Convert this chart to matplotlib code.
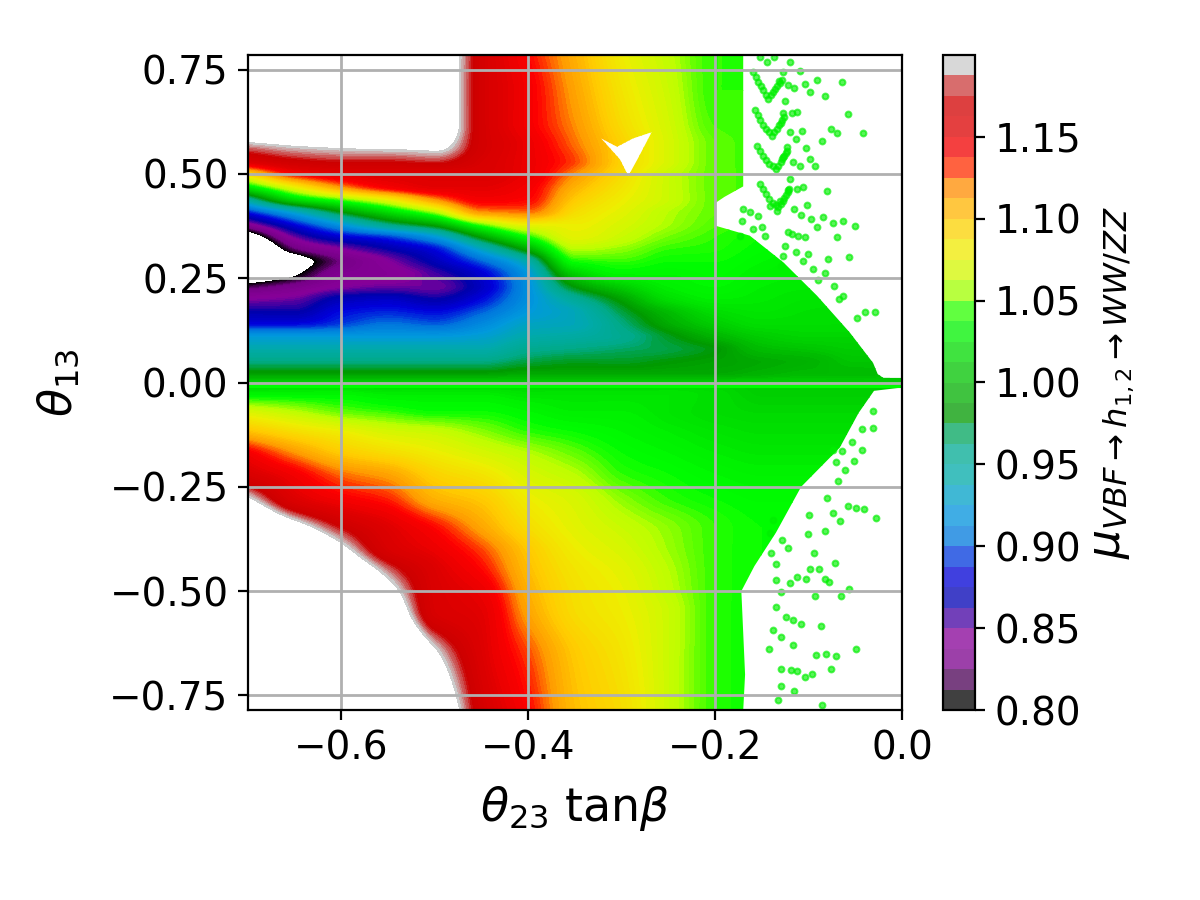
import numpy as np
import matplotlib
matplotlib.use("Agg")
import matplotlib.pyplot as plt
from matplotlib.colors import Normalize, BoundaryNorm
from matplotlib.path import Path
from matplotlib.patches import PathPatch
import matplotlib.cm as cm

# ---------------- data ----------------
theta23_tanb = [-0.70, -0.65, -0.60, -0.55, -0.50, -0.45, -0.40, -0.35,
                -0.30, -0.25, -0.20, -0.15, -0.10, -0.05, 0.00]

theta13 = [0.786, 0.70, 0.62, 0.57, 0.53, 0.50, 0.47, 0.44, 0.41, 0.38, 0.35,
           0.32, 0.29, 0.26, 0.23, 0.20, 0.17, 0.14, 0.11, 0.08, 0.05, 0.02,
           0.00, -0.03, -0.07, -0.12, -0.17, -0.22, -0.28, -0.35, -0.40,
           -0.45, -0.50, -0.55, -0.65, -0.786]

# mu_VBF values (rows follow theta13, columns follow theta23_tanb);
# values outside [0.80, 1.20] are regions without points (white)
mu_vbf = [
    [1.44, 1.42, 1.36, 1.30, 1.24, 1.17, 1.14, 1.11, 1.08, 1.062, 1.045, 1.045, 1.04, 1.04, 1.04],
    [1.34, 1.36, 1.36, 1.30, 1.24, 1.17, 1.145, 1.115, 1.085, 1.065, 1.045, 1.045, 1.04, 1.04, 1.04],
    [1.245, 1.26, 1.265, 1.27, 1.236, 1.17, 1.145, 1.12, 1.09, 1.068, 1.047, 1.045, 1.04, 1.04, 1.04],
    [1.195, 1.203, 1.207, 1.21, 1.21, 1.17, 1.15, 1.125, 1.095, 1.07, 1.05, 1.045, 1.04, 1.04, 1.04],
    [1.16, 1.175, 1.18, 1.18, 1.183, 1.165, 1.15, 1.13, 1.095, 1.07, 1.05, 1.045, 1.04, 1.04, 1.04],
    [1.09, 1.14, 1.155, 1.16, 1.16, 1.16, 1.15, 1.12, 1.09, 1.065, 1.05, 1.045, 1.04, 1.04, 1.04],
    [1.03, 1.08, 1.12, 1.145, 1.155, 1.155, 1.145, 1.11, 1.085, 1.065, 1.05, 1.045, 1.04, 1.04, 1.04],
    [0.95, 1.02, 1.05, 1.08, 1.12, 1.145, 1.14, 1.10, 1.08, 1.065, 1.05, 1.045, 1.04, 1.04, 1.04],
    [0.885, 0.93, 0.98, 1.02, 1.06, 1.12, 1.125, 1.09, 1.075, 1.06, 1.05, 1.045, 1.04, 1.04, 1.04],
    [0.835, 0.88, 0.92, 0.96, 0.99, 1.05, 1.08, 1.08, 1.07, 1.058, 1.048, 1.043, 1.04, 1.04, 1.04],
    [0.775, 0.845, 0.875, 0.89, 0.92, 0.985, 1.04, 1.075, 1.065, 1.052, 1.045, 1.04, 1.035, 1.035, 1.035],
    [0.73, 0.815, 0.84, 0.86, 0.88, 0.93, 0.99, 1.06, 1.055, 1.045, 1.043, 1.038, 1.035, 1.035, 1.035],
    [0.71, 0.78, 0.82, 0.84, 0.865, 0.895, 0.94, 1.04, 1.045, 1.04, 1.04, 1.035, 1.03, 1.03, 1.03],
    [0.755, 0.795, 0.83, 0.835, 0.85, 0.875, 0.92, 1.01, 1.035, 1.035, 1.038, 1.032, 1.03, 1.03, 1.03],
    [0.81, 0.825, 0.84, 0.845, 0.845, 0.87, 0.915, 0.98, 1.01, 1.03, 1.035, 1.03, 1.028, 1.028, 1.028],
    [0.84, 0.845, 0.865, 0.87, 0.86, 0.88, 0.915, 0.95, 0.985, 1.02, 1.03, 1.028, 1.025, 1.025, 1.025],
    [0.86, 0.86, 0.88, 0.885, 0.88, 0.895, 0.92, 0.935, 0.97, 1.00, 1.02, 1.025, 1.022, 1.02, 1.02],
    [0.88, 0.88, 0.89, 0.90, 0.895, 0.91, 0.93, 0.935, 0.96, 0.99, 1.01, 1.02, 1.02, 1.02, 1.02],
    [0.92, 0.92, 0.92, 0.92, 0.92, 0.925, 0.94, 0.945, 0.955, 0.975, 0.995, 1.01, 1.015, 1.015, 1.015],
    [0.94, 0.94, 0.94, 0.94, 0.94, 0.94, 0.955, 0.96, 0.965, 0.97, 0.98, 1.0, 1.005, 1.01, 1.01],
    [0.96, 0.96, 0.96, 0.96, 0.96, 0.96, 0.97, 0.975, 0.975, 0.98, 0.985, 0.99, 0.995, 1.005, 1.005],
    [0.985, 0.985, 0.985, 0.985, 0.985, 0.985, 0.99, 0.99, 0.99, 0.99, 0.99, 0.995, 1.00, 1.0, 1.005],
    [1.01, 1.01, 1.01, 1.01, 1.01, 1.01, 1.01, 1.01, 1.01, 1.01, 1.01, 1.01, 1.01, 1.01, 1.01],
    [1.035, 1.035, 1.035, 1.03, 1.03, 1.03, 1.025, 1.025, 1.025, 1.025, 1.02, 1.012, 1.012, 1.012, 1.012],
    [1.07, 1.06, 1.05, 1.045, 1.04, 1.04, 1.035, 1.03, 1.03, 1.025, 1.02, 1.017, 1.017, 1.017, 1.017],
    [1.105, 1.09, 1.08, 1.07, 1.065, 1.055, 1.045, 1.04, 1.035, 1.03, 1.025, 1.022, 1.022, 1.022, 1.022],
    [1.145, 1.12, 1.10, 1.09, 1.08, 1.07, 1.06, 1.05, 1.04, 1.035, 1.03, 1.027, 1.027, 1.027, 1.027],
    [1.163, 1.145, 1.125, 1.115, 1.095, 1.085, 1.07, 1.06, 1.045, 1.04, 1.035, 1.032, 1.032, 1.032, 1.032],
    [1.205, 1.16, 1.145, 1.135, 1.11, 1.10, 1.08, 1.07, 1.055, 1.045, 1.04, 1.037, 1.037, 1.037, 1.037],
    [1.28, 1.22, 1.18, 1.158, 1.14, 1.115, 1.09, 1.075, 1.065, 1.055, 1.045, 1.04, 1.04, 1.04, 1.04],
    [1.33, 1.27, 1.21, 1.165, 1.15, 1.13, 1.10, 1.08, 1.07, 1.057, 1.045, 1.04, 1.04, 1.04, 1.04],
    [1.38, 1.32, 1.25, 1.19, 1.16, 1.14, 1.105, 1.085, 1.075, 1.06, 1.045, 1.04, 1.04, 1.04, 1.04],
    [1.42, 1.36, 1.29, 1.215, 1.163, 1.15, 1.11, 1.088, 1.078, 1.062, 1.045, 1.04, 1.04, 1.04, 1.04],
    [1.46, 1.39, 1.32, 1.24, 1.165, 1.155, 1.115, 1.09, 1.08, 1.065, 1.045, 1.04, 1.04, 1.04, 1.04],
    [1.50, 1.44, 1.37, 1.30, 1.206, 1.16, 1.13, 1.10, 1.085, 1.065, 1.045, 1.04, 1.04, 1.04, 1.04],
    [1.51, 1.45, 1.39, 1.33, 1.245, 1.17, 1.14, 1.105, 1.09, 1.065, 1.045, 1.04, 1.04, 1.04, 1.04],
]

# outline of the densely scanned region
dense_edge_x = [-0.70, -0.17, -0.17, -0.19, -0.20, -0.20, -0.163, -0.127, -0.091,
                -0.056, -0.031, -0.026, -0.02, 0.0, 0.0, -0.030, -0.0465, -0.0666,
                -0.108, -0.135, -0.158, -0.172, -0.170, -0.168, -0.170, -0.70]
dense_edge_theta = [0.786, 0.786, 0.47, 0.445, 0.43, 0.376, 0.352, 0.288, 0.208,
                    0.12, 0.047, 0.02, 0.011, 0.011, -0.012, -0.02, -0.073, -0.156,
                    -0.25, -0.36, -0.44, -0.50, -0.60, -0.70, -0.786, -0.786]

# small empty notch inside the scan
notch_x = [-0.322, -0.305, -0.288, -0.268, -0.282, -0.293, -0.302]
notch_theta = [0.585, 0.565, 0.585, 0.600, 0.540, 0.495, 0.535]

# isolated scan points outside the dense region
sparse_x = [
    -0.0646, -0.0913, -0.1038, -0.0824, -0.0575, -0.0414, -0.0760, -0.0699, -0.0860, -0.1028,
    -0.1138, -0.1067, -0.1199, -0.1234, -0.1127, -0.1181, -0.1277, -0.1252, -0.0985, -0.1153,
    -0.1224, -0.1317, -0.1092, -0.1199, -0.1270, -0.0985, -0.0931, -0.1092, -0.1170, -0.1277,
    -0.1199, -0.0806, -0.1056, -0.1127, -0.1217, -0.1013, -0.1153, -0.1081, -0.0974, -0.0913,
    -0.0842, -0.0742, -0.0635, -0.0503, -0.0692, -0.0567, -0.0789, -0.1003, -0.1135, -0.1063,
    -0.0949, -0.0824, -0.0896, -0.0724, -0.0628, -0.0671, -0.0485, -0.0396, -0.0289, -0.1181,
    -0.1110, -0.1038, -0.1217, -0.1252, -0.1277, -0.1295, -0.1716, -0.1592, -0.1502, -0.1466,
    -0.1341, -0.1306, -0.1413, -0.1538, -0.1627, -0.1699, -0.1734,
    -0.1591, -0.1565, -0.1538, -0.1511, -0.1484, -0.1458, -0.1431, -0.1404, -0.1377, -0.1355,
    -0.1334, -0.1311, -0.1288,
    -0.1573, -0.1547, -0.1520, -0.1488, -0.1456, -0.1425, -0.1395, -0.1368, -0.1341, -0.1320,
    -0.1299, -0.1281, -0.1263,
    -0.1555, -0.1523, -0.1491, -0.1455, -0.1420, -0.1385, -0.1349, -0.1324, -0.1299, -0.1281,
    -0.1263, -0.1245, -0.1227,
    -0.1520, -0.1488, -0.1456, -0.1420, -0.1384, -0.1354, -0.1324, -0.1300, -0.1277, -0.1260,
    -0.1242, -0.1224, -0.1206,
    -0.1448, -0.1370, -0.1520,
    -0.0308, -0.0308, -0.0428, -0.0428, -0.0538, -0.0606, -0.0519, -0.0703, -0.0643, -0.0735,
    -0.0689, -0.0804, -0.0583, -0.0496, -0.0405, -0.0281, -0.0735, -0.0666, -0.0827, -0.1010,
    -0.0996, -0.0941, -0.0721, -0.0987, -0.0886, -0.0827, -0.0781, -0.0565, -0.0652, -0.0932,
    -0.0492, -0.0918, -0.0813, -0.0712, -0.0758, -0.0872, -0.1079, -0.1170, -0.1299, -0.1193,
    -0.1125, -0.1042, -0.0964, -0.1299, -0.1161, -0.1331, -0.0859, -0.1354, -0.1170, -0.1239,
    -0.1299, -0.1386, -0.1423, -0.1299, -0.1354, -0.1202, -0.1125, -0.1033, -0.1354, -0.1400,
    -0.1285, -0.1216, -0.1409, -0.1377,
]
sparse_theta = [
    0.720, 0.726, 0.716, 0.686, 0.643, 0.598, 0.608, 0.598, 0.579, 0.562,
    0.583, 0.604, 0.600, 0.564, 0.648, 0.646, 0.645, 0.675, 0.696, 0.707,
    0.714, 0.723, 0.746, 0.767, 0.744, 0.536, 0.520, 0.520, 0.528, 0.540,
    0.488, 0.458, 0.468, 0.464, 0.462, 0.425, 0.416, 0.402, 0.393, 0.373,
    0.397, 0.382, 0.388, 0.376, 0.349, 0.301, 0.297, 0.308, 0.313, 0.292,
    0.272, 0.262, 0.245, 0.232, 0.208, 0.200, 0.155, 0.168, 0.168, 0.356,
    0.352, 0.349, 0.361, 0.328, 0.304, 0.280, 0.388, 0.368, 0.373, 0.352,
    0.412, 0.436, 0.424, 0.398, 0.408, 0.416, 0.352,
    0.744, 0.732, 0.720, 0.710, 0.700, 0.690, 0.680, 0.688, 0.696, 0.703,
    0.711, 0.718, 0.724,
    0.652, 0.640, 0.628, 0.618, 0.608, 0.600, 0.592, 0.600, 0.608, 0.616,
    0.623, 0.630, 0.636,
    0.568, 0.556, 0.544, 0.534, 0.524, 0.518, 0.512, 0.520, 0.528, 0.535,
    0.542, 0.549, 0.556,
    0.476, 0.464, 0.452, 0.441, 0.430, 0.425, 0.420, 0.428, 0.436, 0.443,
    0.450, 0.457, 0.464,
    0.768, 0.780, 0.780,
    -0.069, -0.109, -0.111, -0.161, -0.143, -0.209, -0.189, -0.191, -0.164, -0.161,
    -0.237, -0.277, -0.296, -0.301, -0.304, -0.325, -0.312, -0.332, -0.355, -0.363,
    -0.318, -0.409, -0.432, -0.446, -0.446, -0.472, -0.478, -0.496, -0.512, -0.512,
    -0.638, -0.654, -0.651, -0.656, -0.686, -0.584, -0.578, -0.630, -0.686, -0.688,
    -0.692, -0.706, -0.698, -0.728, -0.740, -0.760, -0.774, -0.538, -0.570, -0.562,
    -0.611, -0.594, -0.638, -0.502, -0.474, -0.480, -0.466, -0.470, -0.434, -0.409,
    -0.377, -0.397, -0.361, -0.329,
]
sparse_mu = 1.03

# thin line of points on theta13 ~ 0
zero_strip_x = [-0.70, 0.0]
zero_strip_theta = -0.007
zero_strip_mu = 1.04

cbar_ticks = [0.80, 0.85, 0.90, 0.95, 1.00, 1.05, 1.10, 1.15]
x_ticks = [-0.6, -0.4, -0.2, 0.0]
y_ticks = [-0.75, -0.50, -0.25, 0.00, 0.25, 0.50, 0.75]


# ---------------- smooth (monotone) resampling for drawing ----------------
def pchip(xk, yk, xq, axis):
    """Monotone piecewise-cubic Hermite resampling along one axis."""
    yk = np.moveaxis(np.asarray(yk, float), axis, 0)
    xk = np.asarray(xk, float)
    if xk[0] > xk[-1]:
        xk = xk[::-1]
        yk = yk[::-1]
    n = len(xk)
    h = np.diff(xk)
    shp = (-1,) + (1,) * (yk.ndim - 1)
    hs = h.reshape(shp)
    delta = np.diff(yk, axis=0) / hs
    d = np.zeros_like(yk)
    h0, h1 = hs[:-1], hs[1:]
    d0, d1 = delta[:-1], delta[1:]
    w1 = 2 * h1 + h0
    w2 = h1 + 2 * h0
    with np.errstate(divide="ignore", invalid="ignore"):
        dm = (w1 + w2) / (w1 / d0 + w2 / d1)
    d[1:-1] = np.where(d0 * d1 > 0, dm, 0.0)
    d[0] = delta[0]
    d[-1] = delta[-1]
    idx = np.clip(np.searchsorted(xk, xq) - 1, 0, n - 2)
    hh = h[idx].reshape(shp)
    t = ((xq - xk[idx]) / h[idx]).reshape(shp)
    h00 = 2 * t**3 - 3 * t**2 + 1
    h10 = t**3 - 2 * t**2 + t
    h01 = -2 * t**3 + 3 * t**2
    h11 = t**3 - t**2
    res = (h00 * yk[idx] + h10 * hh * d[idx] + h01 * yk[idx + 1]
           + h11 * hh * d[idx + 1])
    return np.moveaxis(res, 0, axis)


# ---------------- figure ----------------
cmap = plt.get_cmap("nipy_spectral")
norm = Normalize(vmin=0.80, vmax=1.20)

fig = plt.figure(figsize=(6, 4.5), dpi=200)
ax = fig.add_axes([0.2067, 0.2111, 0.545, 0.7278])
cax = fig.add_axes([0.7858, 0.2111, 0.0267, 0.7278])

xq = np.linspace(theta23_tanb[0], theta23_tanb[-1], 421)
yq = np.linspace(theta13[-1], theta13[0], 481)
Z = np.array(mu_vbf)
Zx = pchip(theta23_tanb, Z, xq, axis=1)
Zf = pchip(theta13, Zx, yq, axis=0)
levels = np.linspace(0.80, 1.20, 161)
cs = ax.contourf(xq, yq, Zf, levels=levels, cmap=cmap, norm=norm, zorder=1)

# clip path: dense region minus the notch
outer = list(zip(dense_edge_x, dense_edge_theta))
hole = list(zip(notch_x, notch_theta))


def signed_area(pts):
    a = 0.0
    for (x1, y1), (x2, y2) in zip(pts, pts[1:] + pts[:1]):
        a += x1 * y2 - x2 * y1
    return a / 2


if np.sign(signed_area(outer)) == np.sign(signed_area(hole)):
    hole = hole[::-1]
verts = outer + [outer[0]] + hole + [hole[0]]
codes = ([Path.MOVETO] + [Path.LINETO] * (len(outer) - 1) + [Path.CLOSEPOLY]
         + [Path.MOVETO] + [Path.LINETO] * (len(hole) - 1) + [Path.CLOSEPOLY])
clip_patch = PathPatch(Path(verts, codes), transform=ax.transData,
                       facecolor="none", edgecolor="none")
cs.set_clip_path(clip_patch)

ax.plot(zero_strip_x, [zero_strip_theta] * len(zero_strip_x),
        color=cmap(norm(zero_strip_mu)), lw=2.2, solid_capstyle="butt", zorder=1.2)

ax.scatter(sparse_x, sparse_theta, s=4.5, color=cmap(norm(sparse_mu)),
           alpha=0.65, linewidths=0.7, edgecolors="face", zorder=1.1)

ax.set_xlim(-0.70, 0.0)
ax.set_ylim(-0.785, 0.785)
ax.set_xticks(x_ticks)
ax.set_yticks(y_ticks)
ax.grid(True, color="#b0b0b0", lw=1.0)
ax.tick_params(labelsize=14)
ax.set_xlabel(r"$\theta_{23}$ tan$\beta$", fontsize=16.5, labelpad=6)
ax.set_ylabel(r"$\theta_{13}$", fontsize=16.5, labelpad=10)

cb_bounds = np.linspace(0.80, 1.20, 33)
sm = cm.ScalarMappable(norm=BoundaryNorm(cb_bounds, cmap.N), cmap=cmap)
cb = fig.colorbar(sm, cax=cax, alpha=0.75, ticks=cbar_ticks, format="%.2f")
cb.ax.minorticks_off()
cb.ax.tick_params(labelsize=14)
cb.set_label(r"$\mu_{VBF\rightarrow h_{1,2}\rightarrow WW/ZZ}$", fontsize=16.5)

fig.savefig("out.png", dpi=200)
